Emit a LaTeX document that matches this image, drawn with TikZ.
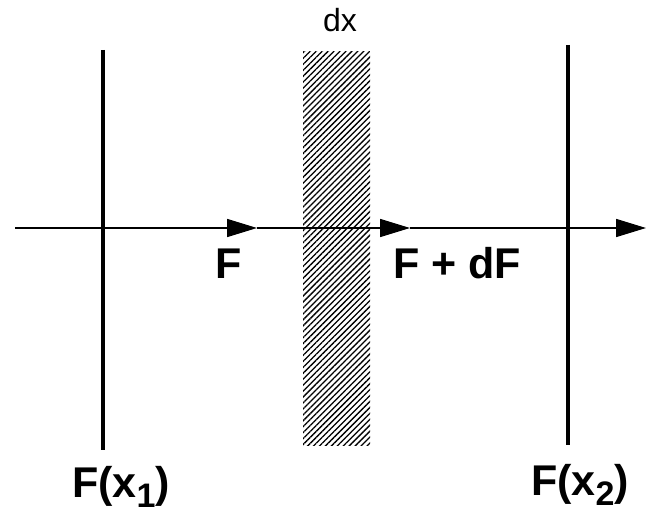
\documentclass[tikz,border=0pt]{standalone}
\usepackage{fontspec}
\setmainfont{Liberation Sans}
\usetikzlibrary{arrows.meta,patterns.meta}

\newcommand{\lowsub}[1]{\raisebox{-10pt}{\fontsize{34}{34}\selectfont #1}}

\begin{document}
\begin{tikzpicture}[x=1pt,y=-1pt,>={Triangle[length=30pt,width=18pt]},
    wall/.style={line width=3.4pt},
    flux/.style={line width=1.6pt},
    biglabel/.style={font=\fontsize{43}{43}\selectfont\bfseries,anchor=base,inner sep=0pt},
    smalllabel/.style={font=\fontsize{32}{32}\selectfont,anchor=base,inner sep=0pt}]
  \useasboundingbox (0,0) rectangle (646,516);
  % slab of thickness dx
  \fill[pattern={Lines[angle=45,distance=4.2pt,line width=1.3pt]}]
    (303,52) rectangle (370,445);
  \node[smalllabel] (dx) at (340,32) {dx};
  % the two planes
  \coordinate (w1top) at (103,50);
  \coordinate (w1bot) at (103,450);
  \coordinate (w2top) at (568,45);
  \coordinate (w2bot) at (568,445);
  \draw[wall] (w1top) -- (w1bot);
  \draw[wall] (w2top) -- (w2bot);
  % the axis with the flux arrows
  \coordinate (start) at (15,228);
  \coordinate (tipF) at (257,228);
  \coordinate (tipdF) at (410,228);
  \coordinate (stop) at (646,228);
  \draw[flux,->] (start) -- (tipF);
  \draw[flux,->] (tipF) -- (tipdF);
  \draw[flux,->] (tipdF) -- (stop);
  \node[biglabel] (flow) at (229,279) {F};
  \node[biglabel] (flowd) at (457,279) {F + dF};
  \node[biglabel] (left) at (121,497) {F(x\lowsub{1})};
  \node[biglabel] (right) at (580,495) {F(x\lowsub{2})};
\end{tikzpicture}
\end{document}
